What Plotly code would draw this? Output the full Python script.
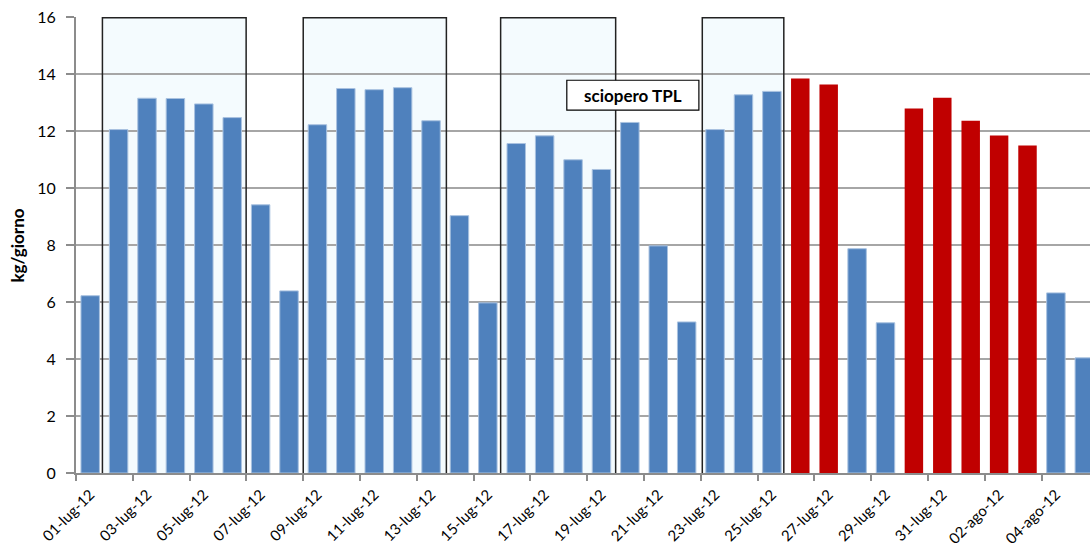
import plotly.graph_objects as go

# Daily values (kg/giorno), 1 July - 5 August 2012
giorni = [
    "01-lug-12", "02-lug-12", "03-lug-12", "04-lug-12", "05-lug-12", "06-lug-12",
    "07-lug-12", "08-lug-12", "09-lug-12", "10-lug-12", "11-lug-12", "12-lug-12",
    "13-lug-12", "14-lug-12", "15-lug-12", "16-lug-12", "17-lug-12", "18-lug-12",
    "19-lug-12", "20-lug-12", "21-lug-12", "22-lug-12", "23-lug-12", "24-lug-12",
    "25-lug-12", "26-lug-12", "27-lug-12", "28-lug-12", "29-lug-12", "30-lug-12",
    "31-lug-12", "01-ago-12", "02-ago-12", "03-ago-12", "04-ago-12", "05-ago-12",
]
valori = [
    6.22, 12.05, 13.15, 13.14, 12.95, 12.47,
    9.41, 6.39, 12.22, 13.49, 13.45, 13.52,
    12.36, 9.03, 5.97, 11.56, 11.83, 10.99,
    10.65, 12.30, 7.97, 5.30, 12.05, 13.27,
    13.39, 13.84, 13.63, 7.87, 5.27, 12.79,
    13.17, 12.36, 11.84, 11.49, 6.32, 4.04,
]
# days drawn in red
evidenziati = [
    0, 0, 0, 0, 0, 0, 0, 0, 0, 0, 0, 0,
    0, 0, 0, 0, 0, 0, 0, 0, 0, 0, 0, 0,
    0, 1, 1, 0, 0, 1, 1, 1, 1, 1, 0, 0,
]
# shaded periods, as (first day index, last day index) with edge offsets
periodi = [(0.43, 5.49), (7.5, 12.54), (14.45, 18.5), (21.55, 24.42)]
etichetta_sciopero = "sciopero TPL"

BLUE = "#4F81BD"
RED = "#C00000"
FONT = "Lato, Carlito, Calibri, sans-serif"

xs = list(range(len(valori)))
colori = [RED if e else BLUE for e in evidenziati]
bordi = ["rgba(0,0,0,0)" if e else "#A9C2E0" for e in evidenziati]

fig = go.Figure()
fig.add_trace(go.Bar(
    x=xs, y=valori,
    marker=dict(color=colori, line=dict(color=bordi, width=1)),
    width=0.65,
    hoverinfo="x+y",
))

shapes = []
for x0, x1 in periodi:
    shapes.append(dict(type="rect", xref="x", yref="y", x0=x0, x1=x1, y0=0, y1=15.97,
                       fillcolor="rgba(200,236,250,0.2)", line=dict(width=0),
                       layer="below"))
    shapes.append(dict(type="rect", xref="x", yref="y", x0=x0, x1=x1, y0=-0.04, y1=15.97,
                       fillcolor="rgba(0,0,0,0)", line=dict(color="#222222", width=1.5),
                       layer="above"))
# label box
shapes.append(dict(type="rect", xref="x", yref="y", x0=16.78, x1=21.43, y0=12.73, y1=13.78,
                   fillcolor="white", line=dict(color="black", width=1.2), layer="above"))

annotations = [
    dict(x=(16.78 + 21.43) / 2, y=(12.73 + 13.78) / 2, xref="x", yref="y",
         text="<b>" + etichetta_sciopero + "</b>", showarrow=False,
         font=dict(family=FONT, size=17, color="black"), xanchor="center", yanchor="middle"),
    dict(x=-0.0577, y=0.5, xref="paper", yref="paper", text="<b>kg/giorno</b>",
         showarrow=False, textangle=-90, font=dict(family=FONT, size=17, color="black"),
         xanchor="center", yanchor="middle"),
]

tick_pos = xs[0:35:2]
tick_txt = [giorni[i] for i in tick_pos]
boundaries = [i - 0.5 for i in range(0, 37, 2)]

fig.update_layout(
    width=1090, height=547,
    margin=dict(l=76, r=0, t=17, b=74, autoexpand=False),
    paper_bgcolor="white", plot_bgcolor="white",
    showlegend=False,
    font=dict(family=FONT, color="black"),
    shapes=shapes,
    annotations=annotations,
    xaxis=dict(
        range=[-0.5, 35.2], automargin=False,
        tickmode="array", tickvals=tick_pos, ticktext=tick_txt,
        tickangle=-45, ticks="outside", ticklen=5, tickcolor="rgba(0,0,0,0)",
        tickfont=dict(family=FONT, size=15, color="black"),
        showline=True, linecolor="#8C8C8C", linewidth=2,
        showgrid=False, zeroline=False,
        minor=dict(tickmode="array", tickvals=boundaries, ticks="outside",
                   ticklen=6, tickcolor="#8C8C8C", tickwidth=1.5, showgrid=False),
    ),
    yaxis=dict(
        range=[0, 16], dtick=2, tick0=0, automargin=False,
        ticks="outside", ticklen=8, tickcolor="#8C8C8C", tickwidth=1.5,
        ticklabelstandoff=7,
        tickfont=dict(family=FONT, size=16, color="black"),
        showline=True, linecolor="#8C8C8C", linewidth=2,
        showgrid=True, gridcolor="#A6A6A6", gridwidth=1.5,
        zeroline=False,
    ),
)

fig.write_html("out.html")
